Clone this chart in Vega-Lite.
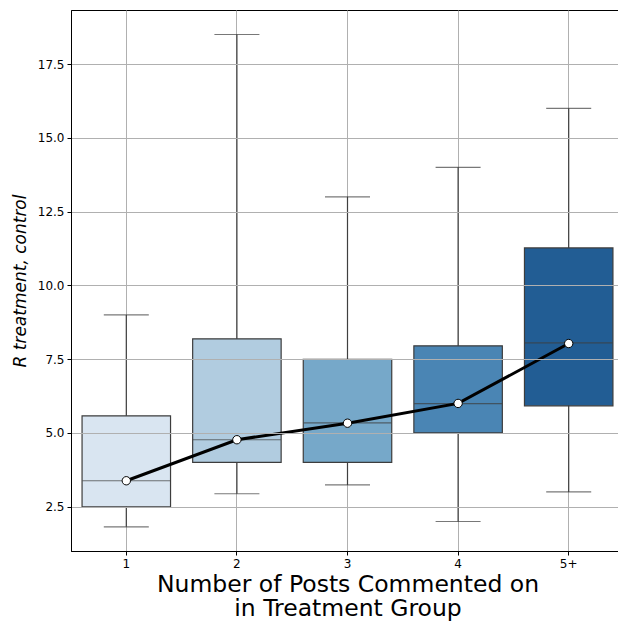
{
  "$schema": "https://vega.github.io/schema/vega-lite/v6.json",
  "autosize": "none",
  "padding": {"left": 71, "top": 10, "right": 0, "bottom": 70},
  "width": 553,
  "height": 541,
  "background": "white",
  "config": {
    "font": "DejaVu Sans",
    "view": {"stroke": "#000000", "strokeWidth": 1},
    "axis": {
      "labelFont": "DejaVu Sans",
      "labelFontSize": 12,
      "labelColor": "#000000",
      "tickColor": "#000000",
      "tickSize": 4,
      "domainColor": "#000000",
      "gridColor": "#b0b0b0",
      "gridWidth": 1,
      "titleFont": "DejaVu Sans",
      "titleColor": "#000000",
      "titleFontWeight": "normal"
    }
  },
  "data": {
    "values": [
      {"group": "1", "min": 1.82, "q1": 2.5, "median": 3.38, "q3": 5.58, "max": 9.0, "mean": 3.38},
      {"group": "2", "min": 2.94, "q1": 4.0, "median": 4.77, "q3": 8.19, "max": 18.5, "mean": 4.77},
      {"group": "3", "min": 3.24, "q1": 4.0, "median": 5.34, "q3": 7.49, "max": 13.0, "mean": 5.33},
      {"group": "4", "min": 2.0, "q1": 5.0, "median": 5.99, "q3": 7.95, "max": 14.0, "mean": 6.0},
      {"group": "5+", "min": 3.0, "q1": 5.92, "median": 8.05, "q3": 11.27, "max": 16.0, "mean": 8.03}
    ]
  },
  "encoding": {
    "x": {
      "field": "group",
      "type": "nominal",
      "sort": ["1", "2", "3", "4", "5+"],
      "scale": {"type": "band", "paddingInner": 0, "paddingOuter": 0},
      "axis": {
        "labelAngle": 0,
        "zindex": 0,
        "grid": true,
        "gridColor": "#b0b0b0",
        "bandPosition": 0.5,
        "labelPadding": 3,
        "title": ["Number of Posts Commented on", "in Treatment Group"],
        "titleFontSize": 23.5,
        "titleLineHeight": 24,
        "titlePadding": 3
      }
    }
  },
  "layer": [
    {
      "mark": {"type": "rule", "color": "#3f3f3f", "strokeWidth": 1.2},
      "encoding": {
        "y": {
          "field": "min",
          "type": "quantitative",
          "scale": {"domain": [1.0, 19.33], "nice": false, "zero": false},
          "axis": {
            "values": [2.5, 5, 7.5, 10, 12.5, 15, 17.5],
            "format": ".1f",
            "grid": true,
            "zindex": 1,
            "labelPadding": 3,
            "title": "R treatment, control",
            "titleFontStyle": "italic",
            "titleFontSize": 17,
            "titlePadding": 8
          }
        },
        "y2": {"field": "max"}
      }
    },
    {
      "mark": {"type": "tick", "color": "#3f3f3f", "size": 45, "thickness": 1.2, "orient": "horizontal"},
      "encoding": {"y": {"field": "min", "type": "quantitative"}}
    },
    {
      "mark": {"type": "tick", "color": "#3f3f3f", "size": 45, "thickness": 1.2, "orient": "horizontal"},
      "encoding": {"y": {"field": "max", "type": "quantitative"}}
    },
    {
      "mark": {"type": "bar", "width": {"band": 0.8}, "stroke": "#3d3d3d", "strokeWidth": 1.2},
      "encoding": {
        "y": {"field": "q1", "type": "quantitative"},
        "y2": {"field": "q3"},
        "color": {
          "field": "group",
          "type": "nominal",
          "scale": {"domain": ["1", "2", "3", "4", "5+"], "range": ["#d9e5f1", "#b1cce0", "#76a8c9", "#4a85b4", "#225d94"]},
          "legend": null
        }
      }
    },
    {
      "mark": {"type": "tick", "color": "#3d3d3d", "size": 88, "thickness": 1.2, "orient": "horizontal"},
      "encoding": {"y": {"field": "median", "type": "quantitative"}}
    },
    {
      "mark": {"type": "line", "color": "#000000", "strokeWidth": 3},
      "encoding": {"y": {"field": "mean", "type": "quantitative"}}
    },
    {
      "mark": {"type": "point", "filled": true, "fill": "#ffffff", "stroke": "#000000", "strokeWidth": 1, "size": 70, "opacity": 1},
      "encoding": {"y": {"field": "mean", "type": "quantitative"}}
    }
  ]
}
